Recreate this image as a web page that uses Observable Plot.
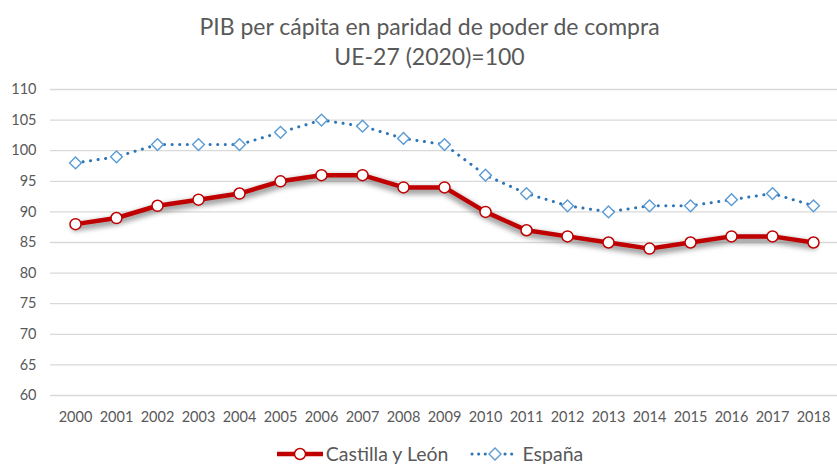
<!DOCTYPE html>
<html>
<head>
<meta charset="utf-8">
<script src="https://cdn.jsdelivr.net/npm/d3@7"></script>
<script src="https://cdn.jsdelivr.net/npm/@observablehq/plot@0.6"></script>
<style>
  body { margin: 0; background: #fff; font-family: Lato, "Open Sans", sans-serif; color: #595959; }
  #wrap { position: relative; width: 837px; height: 464px; overflow: hidden; }
  .t { position: absolute; left: 0; width: 837px; padding-left: 22px; box-sizing: border-box; text-align: center; font-size: 23px; line-height: 30px; white-space: nowrap; }
  #chart { position: absolute; left: 0; top: 70px; }
  #legend { position: absolute; left: 0; top: 443px; width: 837px; height: 22px; display: flex; justify-content: center; align-items: center; font-size: 19.5px; line-height: 22px; padding-left: 22px; box-sizing: border-box; }
  #legend .item { display: flex; align-items: center; margin: 0 11px; }
  #legend svg { margin-right: 2px; }
  .shadow { filter: blur(2.5px); }
</style>
</head>
<body>
<div id="wrap">
  <div class="t" style="top:11px">PIB per cápita en paridad de poder de compra</div>
  <div class="t" style="top:41px">UE-27 (2020)=100</div>
  <div id="chart"></div>
  <div id="legend"></div>
</div>
<script>
const years = [2000, 2001, 2002, 2003, 2004, 2005, 2006, 2007, 2008, 2009, 2010, 2011, 2012, 2013, 2014, 2015, 2016, 2017, 2018];
const castillaLeon = [88, 89, 91, 92, 93, 95, 96, 96, 94, 94, 90, 87, 86, 85, 84, 85, 86, 86, 85];
const espana = [98, 99, 101, 101, 101, 103, 105, 104, 102, 101, 96, 93, 91, 90, 91, 91, 92, 93, 91];
const yTicks = [60, 65, 70, 75, 80, 85, 90, 95, 100, 105, 110];
const seriesNames = ["Castilla y León", "España"];

const cyl = years.map((y, i) => ({year: String(y), value: castillaLeon[i]}));
const esp = years.map((y, i) => ({year: String(y), value: espana[i]}));

const red = "#C00000";
const blueLine = "#2E75B6";
const blueMarker = "#5B9BD5";

const chart = Plot.plot({
  width: 837,
  height: 370,
  marginLeft: 50,
  marginRight: 0,
  marginTop: 19,
  marginBottom: 45,
  style: {fontFamily: "Lato, sans-serif", fontSize: "14.5px", color: "#595959", background: "transparent"},
  x: {type: "point", domain: years.map(String), padding: 0.5, label: null},
  y: {domain: [60, 110], label: null},
  marks: [
    Plot.gridY(yTicks, {stroke: "#d9d9d9", strokeOpacity: 1, strokeWidth: 1.3}),
    Plot.axisX({tickSize: 0, tickPadding: 16, fill: "#595959", label: null}),
    Plot.axisY(yTicks, {tickSize: 0, tickPadding: 14, fill: "#595959", label: null}),
    Plot.line(cyl, {x: "year", y: "value", stroke: "#666", strokeOpacity: 0.6, strokeWidth: 8, dy: 3, className: "shadow"}),
    Plot.line(cyl, {x: "year", y: "value", stroke: red, strokeWidth: 4.5, strokeLinejoin: "round"}),
    Plot.dot(cyl, {x: "year", y: "value", r: 5.5, fill: "white", stroke: red, strokeWidth: 1.5}),
    Plot.line(esp, {x: "year", y: "value", stroke: blueLine, strokeWidth: 3, strokeDasharray: "0.1 7.5", strokeLinecap: "round"}),
    Plot.dot(esp, {x: "year", y: "value", symbol: "diamond2", r: 5.3, fill: "white", stroke: blueMarker, strokeWidth: 1.4})
  ]
});
document.getElementById("chart").appendChild(chart);

// legend
const legend = document.getElementById("legend");
legend.innerHTML = `
  <div class="item">
    <svg width="48" height="16"><line x1="1" y1="8" x2="47" y2="8" stroke="${red}" stroke-width="4.5"/><circle cx="24" cy="8" r="5.5" fill="white" stroke="${red}" stroke-width="1.5"/></svg>
    <span>${seriesNames[0]}</span>
  </div>
  <div class="item">
    <svg width="50" height="16"><line x1="2" y1="8" x2="48" y2="8" stroke="${blueLine}" stroke-width="3" stroke-dasharray="0.1 6.5" stroke-linecap="round"/><path d="M25 2 L31 8 L25 14 L19 8 Z" fill="white" stroke="${blueMarker}" stroke-width="1.4"/></svg>
    <span>${seriesNames[1]}</span>
  </div>`;
</script>
</body>
</html>
